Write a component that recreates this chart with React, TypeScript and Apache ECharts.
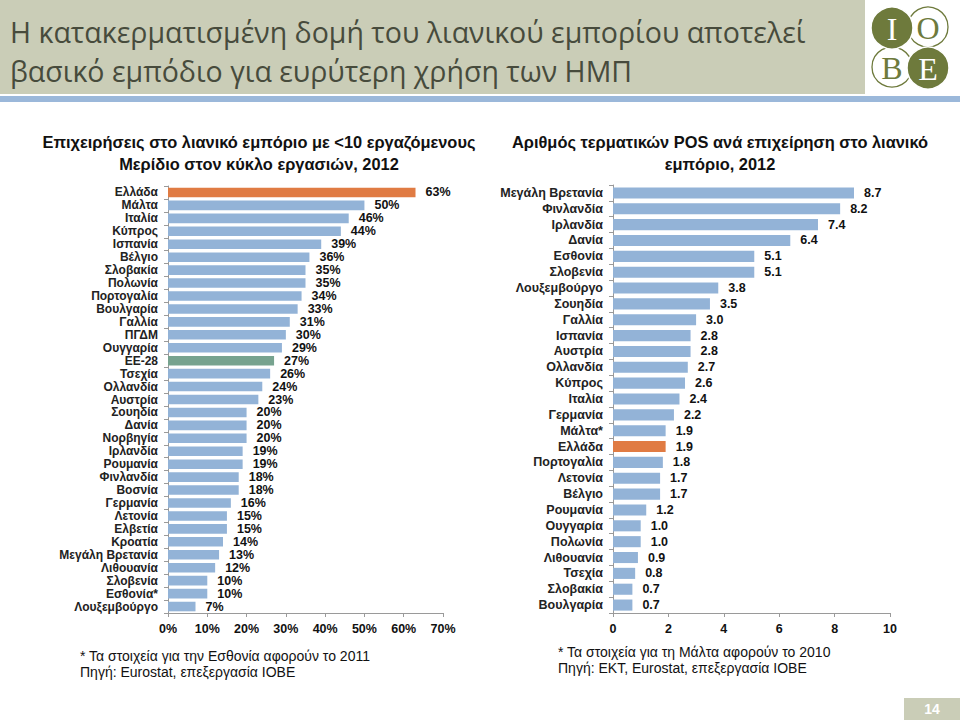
import React, { useEffect, useRef } from "react";
import * as echarts from "echarts";

const leftCategories = [
  "Ελλάδα", "Μάλτα", "Ιταλία", "Κύπρος", "Ισπανία", "Βέλγιο", "Σλοβακία", "Πολωνία",
  "Πορτογαλία", "Βουλγαρία", "Γαλλία", "ΠΓΔΜ", "Ουγγαρία", "ΕΕ-28", "Τσεχία", "Ολλανδία",
  "Αυστρία", "Σουηδία", "Δανία", "Νορβηγία", "Ιρλανδία", "Ρουμανία", "Φινλανδία", "Βοσνία",
  "Γερμανία", "Λετονία", "Ελβετία", "Κροατία", "Μεγάλη Βρετανία", "Λιθουανία", "Σλοβενία",
  "Εσθονία*", "Λουξεμβούργο",
];
const leftValues = [
  63, 50, 46, 44, 39, 36, 35, 35, 34, 33, 31, 30, 29, 27, 26, 24, 23, 20, 20, 20, 19, 19,
  18, 18, 16, 15, 15, 14, 13, 12, 10, 10, 7,
];
const leftTicks = [0, 10, 20, 30, 40, 50, 60, 70];

const rightCategories = [
  "Μεγάλη Βρετανία", "Φινλανδία", "Ιρλανδία", "Δανία", "Εσθονία", "Σλοβενία", "Λουξεμβούργο",
  "Σουηδία", "Γαλλία", "Ισπανία", "Αυστρία", "Ολλανδία", "Κύπρος", "Ιταλία", "Γερμανία",
  "Μάλτα*", "Ελλάδα", "Πορτογαλία", "Λετονία", "Βέλγιο", "Ρουμανία", "Ουγγαρία", "Πολωνία",
  "Λιθουανία", "Τσεχία", "Σλοβακία", "Βουλγαρία",
];
const rightValues = [
  8.7, 8.2, 7.4, 6.4, 5.1, 5.1, 3.8, 3.5, 3.0, 2.8, 2.8, 2.7, 2.6, 2.4, 2.2, 1.9, 1.9, 1.8,
  1.7, 1.7, 1.2, 1.0, 1.0, 0.9, 0.8, 0.7, 0.7,
];
const rightTicks = [0, 2, 4, 6, 8, 10];

const BLUE = "#93b3d7";
const ORANGE = "#e07b43";
const GREEN = "#77a38f";
const OLIVE = "#6e7a3c";
const HEADER_BG = "#cacdb7";
const FONT = "'Liberation Sans', Arial, sans-serif";

function colorFor(name: string) {
  if (name === "Ελλάδα") return ORANGE;
  if (name === "ΕΕ-28") return GREEN;
  return BLUE;
}

export default function App() {
  const ref = useRef<HTMLDivElement>(null);
  useEffect(() => {
    if (!ref.current) return;
    const chart = echarts.init(ref.current, null, { renderer: "svg" });

    const catAxis = (data: string[], gridIndex: number, fs: number) => ({
      type: "category" as const,
      gridIndex,
      data,
      inverse: true,
      axisLine: { show: true, lineStyle: { color: "#9a9a9a", width: 1 } },
      axisTick: { show: true, length: 4, lineStyle: { color: "#9a9a9a" } },
      axisLabel: {
        interval: 0,
        margin: 10,
        fontFamily: FONT,
        fontWeight: "bold" as const,
        fontSize: fs,
        color: "#222",
      },
    });

    const valAxis = (gridIndex: number, max: number, interval: number, fmt: (v: number) => string) => ({
      type: "value" as const,
      gridIndex,
      min: 0,
      max,
      interval,
      axisLine: { show: true, lineStyle: { color: "#9a9a9a", width: 1 } },
      axisTick: { show: true, length: 4, lineStyle: { color: "#9a9a9a" } },
      splitLine: { show: false },
      axisLabel: {
        margin: 9,
        fontFamily: FONT,
        fontWeight: "bold" as const,
        fontSize: 12.5,
        color: "#111",
        formatter: fmt,
      },
    });

    const titleStyle = (text: string) => ({
      text,
      fontFamily: FONT,
      fontWeight: "bold",
      fontSize: 16.4,
      fill: "#111",
      align: "center",
      verticalAlign: "middle",
    });

    const noteStyle = (text: string) => ({
      text,
      fontFamily: FONT,
      fontSize: 14,
      fill: "#111",
      verticalAlign: "middle",
    });

    const option = {
      animation: false,
      backgroundColor: "#ffffff",
      grid: [
        { left: 168, top: 186, width: 275, height: 427 },
        { left: 613, top: 185, width: 277, height: 428 },
      ],
      xAxis: [
        valAxis(0, leftTicks[leftTicks.length - 1], leftTicks[1] - leftTicks[0], (v: number) => `${v}%`),
        valAxis(1, rightTicks[rightTicks.length - 1], rightTicks[1] - rightTicks[0], (v: number) => `${v}`),
      ],
      yAxis: [catAxis(leftCategories, 0, 12), catAxis(rightCategories, 1, 12.5)],
      series: [
        {
          type: "bar",
          xAxisIndex: 0,
          yAxisIndex: 0,
          barCategoryGap: "26%",
          data: leftValues.map((v, i) => ({
            value: v,
            itemStyle: { color: colorFor(leftCategories[i]) },
          })),
          label: {
            show: true,
            position: "right",
            distance: 10,
            fontFamily: FONT,
            fontWeight: "bold",
            fontSize: 12.5,
            color: "#111",
            formatter: (p: any) => `${p.value}%`,
          },
        },
        {
          type: "bar",
          xAxisIndex: 1,
          yAxisIndex: 1,
          barCategoryGap: "30%",
          data: rightValues.map((v, i) => ({
            value: v,
            itemStyle: { color: colorFor(rightCategories[i]) },
          })),
          label: {
            show: true,
            position: "right",
            distance: 10,
            fontFamily: FONT,
            fontWeight: "bold",
            fontSize: 12.5,
            color: "#111",
            formatter: (p: any) => Number(p.value).toFixed(1),
          },
        },
      ],
      graphic: [
        // header
        { type: "rect", shape: { x: 0, y: 0, width: 865, height: 94 }, style: { fill: HEADER_BG }, silent: true },
        { type: "rect", shape: { x: 0, y: 96, width: 960, height: 6 }, style: { fill: "#9bb8da" }, silent: true },
        {
          type: "text",
          x: 10,
          y: 32,
          style: {
            text: "Η κατακερματισμένη δομή του λιανικού εμπορίου αποτελεί",
            fontFamily: "'Open Sans', 'Noto Sans', sans-serif",
            fontSize: 28.5,
            fill: "#474b3c",
            verticalAlign: "middle",
          },
        },
        {
          type: "text",
          x: 10,
          y: 71,
          style: {
            text: "βασικό εμπόδιο για ευρύτερη χρήση των ΗΜΠ",
            fontFamily: "'Open Sans', 'Noto Sans', sans-serif",
            fontSize: 28.5,
            fill: "#474b3c",
            verticalAlign: "middle",
          },
        },
        // logo
        { type: "circle", shape: { cx: 928, cy: 27, r: 20 }, style: { fill: "#fff", stroke: OLIVE, lineWidth: 1.3 } },
        { type: "circle", shape: { cx: 892, cy: 67, r: 20 }, style: { fill: "#fff", stroke: OLIVE, lineWidth: 1.3 } },
        { type: "circle", shape: { cx: 892, cy: 28, r: 21 }, style: { fill: OLIVE, stroke: "#fff", lineWidth: 1.5 } },
        { type: "circle", shape: { cx: 928, cy: 68, r: 21 }, style: { fill: OLIVE, stroke: "#fff", lineWidth: 1.5 } },
        { type: "text", x: 892, y: 29, style: { text: "I", fontFamily: "'Liberation Serif', serif", fontSize: 32, fill: "#fff", align: "center", verticalAlign: "middle" } },
        { type: "text", x: 928, y: 28, style: { text: "O", fontFamily: "'Liberation Serif', serif", fontSize: 32, fill: OLIVE, align: "center", verticalAlign: "middle" } },
        { type: "text", x: 892, y: 68, style: { text: "B", fontFamily: "'Liberation Serif', serif", fontSize: 32, fill: OLIVE, align: "center", verticalAlign: "middle" } },
        { type: "text", x: 928, y: 69, style: { text: "E", fontFamily: "'Liberation Serif', serif", fontSize: 32, fill: "#fff", align: "center", verticalAlign: "middle" } },
        // chart titles
        { type: "text", x: 259, y: 142, style: titleStyle("Επιχειρήσεις στο λιανικό εμπόριο με <10 εργαζόμενους") },
        { type: "text", x: 259, y: 164, style: titleStyle("Μερίδιο στον κύκλο εργασιών, 2012") },
        { type: "text", x: 720, y: 142, style: titleStyle("Αριθμός τερματικών POS ανά επιχείρηση στο λιανικό") },
        { type: "text", x: 720, y: 164, style: titleStyle("εμπόριο, 2012") },
        // footnotes
        { type: "text", x: 80, y: 656, style: noteStyle("* Τα στοιχεία για την Εσθονία αφορούν το 2011") },
        { type: "text", x: 80, y: 672, style: noteStyle("Πηγή: Eurostat, επεξεργασία ΙΟΒΕ") },
        { type: "text", x: 558, y: 652, style: noteStyle("* Τα στοιχεία για τη Μάλτα αφορούν το 2010") },
        { type: "text", x: 558, y: 668, style: noteStyle("Πηγή: ΕΚΤ, Eurostat, επεξεργασία ΙΟΒΕ") },
        // page number
        { type: "rect", shape: { x: 904, y: 698, width: 56, height: 22 }, style: { fill: HEADER_BG } },
        { type: "text", x: 932, y: 709, style: { text: "14", fontFamily: FONT, fontWeight: "bold", fontSize: 14, fill: "#fff", align: "center", verticalAlign: "middle" } },
      ],
    };

    chart.setOption(option as any);
    return () => chart.dispose();
  }, []);

  return (
    <div
      ref={ref}
      style={{ position: "absolute", left: 0, top: 0, width: 960, height: 720 }}
    />
  );
}
